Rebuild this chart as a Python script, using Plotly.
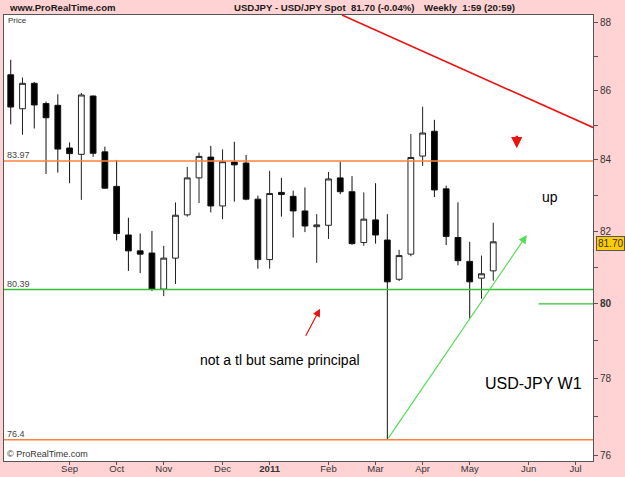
import math
import plotly.graph_objects as go

# ---------------- data ----------------
dates = ["2010-08-02", "2010-08-09", "2010-08-16", "2010-08-23", "2010-08-30",
         "2010-09-06", "2010-09-13", "2010-09-20", "2010-09-27", "2010-10-04",
         "2010-10-11", "2010-10-18", "2010-10-25", "2010-11-01", "2010-11-08",
         "2010-11-15", "2010-11-22", "2010-11-29", "2010-12-06", "2010-12-13",
         "2010-12-20", "2010-12-27", "2011-01-03", "2011-01-10", "2011-01-17",
         "2011-01-24", "2011-01-31", "2011-02-07", "2011-02-14", "2011-02-21",
         "2011-02-28", "2011-03-07", "2011-03-14", "2011-03-21", "2011-03-28",
         "2011-04-04", "2011-04-11", "2011-04-18", "2011-04-25", "2011-05-02",
         "2011-05-09", "2011-05-16"]
opens = [86.46, 85.47, 86.21, 85.62, 85.57, 84.34, 84.16, 85.84, 84.23, 83.25,
         81.89, 81.45, 81.39, 80.40, 81.25, 82.45, 83.49, 84.08, 82.70, 83.94,
         83.91, 82.89, 81.21, 83.08, 82.97, 82.56, 82.12, 82.16, 83.49, 83.10,
         81.68, 82.31, 81.75, 80.67, 81.36, 84.11, 84.82, 83.18, 81.82, 81.16,
         80.70, 80.90]
highs = [86.90, 86.38, 86.25, 85.68, 85.89, 84.50, 85.93, 85.85, 84.38, 84.00,
         82.37, 81.93, 82.00, 81.59, 82.80, 83.80, 84.21, 84.40, 84.30, 84.52,
         84.14, 82.99, 83.69, 83.49, 83.13, 83.22, 82.47, 83.66, 83.95, 83.54,
         83.08, 83.34, 82.47, 81.48, 84.74, 85.53, 85.15, 83.27, 82.80, 81.70,
         81.32, 82.23]
lows = [85.02, 84.72, 84.90, 83.60, 83.64, 83.34, 82.87, 84.09, 83.18, 81.74,
        80.90, 80.84, 80.35, 80.21, 80.54, 82.40, 82.78, 82.52, 82.33, 82.82,
        82.86, 80.96, 80.96, 82.40, 81.82, 81.97, 81.12, 81.78, 83.03, 81.62,
        81.59, 81.65, 76.40, 80.62, 81.30, 83.83, 82.95, 81.61, 81.05, 79.61,
        80.14, 80.63]
closes = [85.52, 86.21, 85.58, 85.21, 84.31, 84.18, 85.87, 84.19, 83.20, 81.93,
          81.45, 81.36, 80.40, 81.25, 82.44, 83.49, 84.10, 82.70, 83.95, 83.86,
          82.89, 81.21, 83.05, 83.02, 82.56, 82.14, 82.17, 83.46, 83.10, 81.65,
          82.33, 81.89, 80.60, 81.32, 84.07, 84.77, 83.15, 81.85, 81.18, 80.60,
          80.82, 81.70]

tick_dates = ["2010-09-06", "2010-10-04", "2010-11-01", "2010-12-06", "2011-01-03",
              "2011-02-07", "2011-03-07", "2011-04-04", "2011-05-02", "2011-06-06",
              "2011-07-04"]
tick_labels = ["Sep", "Oct", "Nov", "Dec", "<b>2011</b>", "Feb", "Mar", "Apr",
               "May", "Jun", "Jul"]
price_ticks = [76, 77, 78, 79, 80, 81, 82, 83, 84, 85, 86, 87, 88]
price_labels = ["76", "", "78", "", "<b>80</b>", "", "82", "", "84", "", "86", "", "88"]

x_range = ["2010-07-29", "2011-07-14 08:00"]
y_range = [75.85, 88.23]

# horizontal levels
resistance = 83.97
support = 80.39
spike_low = 76.4
# red down trend line (start, end)
red_line_x = ["2011-02-15", "2011-07-14 08:00"]
red_line_y = [88.23, 84.93]
# green up-arrow (tail, head)
green_tail = ("2011-03-14", 76.4)
green_head = ("2011-06-05", 81.89)
# red comment arrow (tail, head)
red_tail = ("2011-01-24", 79.1)
red_head = ("2011-02-02", 79.87)
# short green level on the right
short_green_x = ["2011-06-12", "2011-07-14 08:00"]
short_green_y = [80.0, 80.0]
last_price = 81.70

FONT = "Liberation Sans, Arial, sans-serif"
ORANGE = "#FF8040"
GREEN = "#33C133"
L = math.log10

fig = go.Figure()

fig.add_trace(go.Candlestick(
    x=dates, open=opens, high=highs, low=lows, close=closes,
    increasing=dict(fillcolor="white", line=dict(color="#222222", width=1)),
    decreasing=dict(fillcolor="black", line=dict(color="#111111", width=1)),
    whiskerwidth=0, showlegend=False, hoverinfo="skip"))

for lvl, col in [(resistance, ORANGE), (support, GREEN), (spike_low, ORANGE)]:
    fig.add_trace(go.Scatter(x=x_range, y=[lvl, lvl], mode="lines",
                             line=dict(color=col, width=1.6),
                             showlegend=False, hoverinfo="skip"))

fig.add_trace(go.Scatter(x=red_line_x, y=red_line_y, mode="lines",
                         line=dict(color="#EE1111", width=1.6),
                         showlegend=False, hoverinfo="skip"))
fig.add_trace(go.Scatter(x=short_green_x, y=short_green_y, mode="lines",
                         line=dict(color=GREEN, width=1.3),
                         showlegend=False, hoverinfo="skip"))

ann = []
# level labels
for lvl, txt in [(resistance, "83.97"), (support, "80.39"), (spike_low, "76.4")]:
    ann.append(dict(xref="paper", yref="y", x=0, y=L(lvl), xanchor="left",
                    yanchor="bottom", xshift=1, yshift=-1, showarrow=False, text=txt,
                    font=dict(family=FONT, size=9, color="#444444")))
# green arrow
ann.append(dict(xref="x", yref="y", axref="x", ayref="y",
                x=green_head[0], y=L(green_head[1]),
                ax=green_tail[0], ay=L(green_tail[1]),
                showarrow=True, arrowhead=2, arrowsize=1.4, arrowwidth=1.2,
                arrowcolor="#55DD55", text=""))
# red arrow near comment
ann.append(dict(xref="x", yref="y", axref="x", ayref="y",
                x=red_head[0], y=L(red_head[1]), ax=red_tail[0], ay=L(red_tail[1]),
                showarrow=True, arrowhead=2, arrowsize=1.3, arrowwidth=1.2,
                arrowcolor="#EE1111", text=""))
# small red down arrow
ann.append(dict(xref="x", yref="y", x="2011-05-30", y=L(84.33),
                ax=0, ay=-14, showarrow=True, arrowhead=2, arrowsize=0.9,
                arrowwidth=2.5, arrowcolor="#EE1111", text=""))
# comments
ann.append(dict(xref="x", yref="y", x="2011-06-19", y=L(82.95), showarrow=False,
                text="up", font=dict(family=FONT, size=14, color="black")))
ann.append(dict(xref="x", yref="y", x="2011-01-09", y=L(78.48), showarrow=False,
                text="not a tl but same principal",
                font=dict(family=FONT, size=14, color="black")))
ann.append(dict(xref="x", yref="y", x="2011-06-09", y=L(77.87), showarrow=False,
                text="USD-JPY W1", font=dict(family=FONT, size=16, color="black")))
# inner small labels
ann.append(dict(xref="paper", yref="paper", x=0, y=1, xanchor="left", yanchor="top",
                xshift=2, yshift=1, showarrow=False, text="Price",
                font=dict(family=FONT, size=8, color="#333333")))
ann.append(dict(xref="paper", yref="paper", x=0, y=0, xanchor="left", yanchor="bottom",
                xshift=1, yshift=0, showarrow=False, text="© ProRealTime.com",
                font=dict(family=FONT, size=9, color="#333333")))
# header
HFONT = dict(family=FONT, size=9.6, color="#1a1a1a")
for px, txt in [(8, "www.ProRealTime.com"), (233, "USDJPY - USD/JPY Spot"),
                (350, "81.70 (-0.04%)"), (423, "Weekly  1:59 (20:59)")]:
    ann.append(dict(xref="paper", yref="paper", x=(px - 4) / 589, y=1,
                    xanchor="left", yanchor="bottom", xshift=-1, yshift=0,
                    showarrow=False, text="<b>" + txt + "</b>", font=HFONT))
# last price tag
ann.append(dict(xref="paper", yref="y", x=1, y=L(last_price) - 0.0002, xanchor="left",
                xshift=3, showarrow=False, text="81.70",
                bgcolor="#FFCC00", bordercolor="#555555", borderwidth=1, borderpad=1,
                font=dict(family=FONT, size=10, color="#333333")))

fig.update_layout(
    width=625, height=477,
    margin=dict(l=4, r=32, t=15, b=16, autoexpand=False),
    paper_bgcolor="#FFD3D3", plot_bgcolor="white",
    annotations=ann, showlegend=False,
    xaxis=dict(type="date", range=x_range, tickvals=tick_dates, ticktext=tick_labels,
               ticks="outside", ticklen=3, tickcolor="#555555", showgrid=False,
               zeroline=False, showline=True, linecolor="#555555", linewidth=1,
               mirror=True, rangeslider=dict(visible=False), automargin=False,
               ticklabelstandoff=-4,
               tickfont=dict(family=FONT, size=9.5, color="#333333")),
    yaxis=dict(type="log", side="right", range=[L(y_range[0]), L(y_range[1])],
               tickvals=price_ticks, ticktext=price_labels, ticks="outside",
               ticklen=4, tickcolor="#555555", showgrid=False, zeroline=False,
               showline=True, linecolor="#555555", linewidth=1, mirror=True,
               automargin=False,
               tickfont=dict(family=FONT, size=10, color="#333333")),
)

fig.write_html("out.html")
